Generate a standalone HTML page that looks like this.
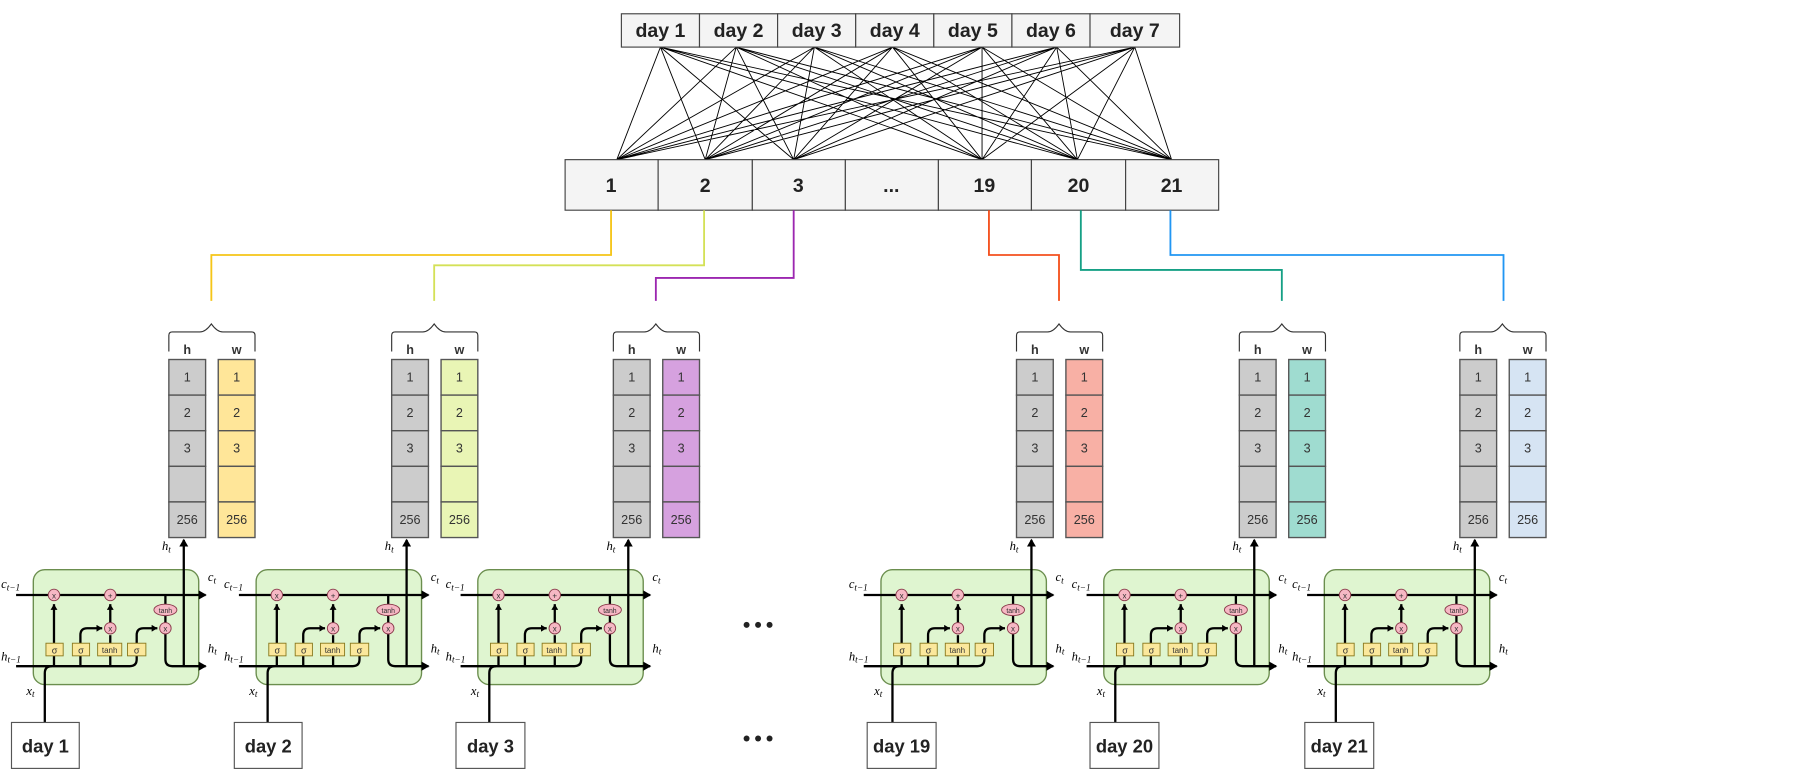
<!DOCTYPE html>
<html><head><meta charset="utf-8"><style>
html,body{margin:0;padding:0;background:#fff;}
svg{display:block;}
text{font-family:"Liberation Sans",sans-serif;}
.b{font-weight:bold;}
.m{font-family:"Liberation Serif",serif;font-style:italic;font-size:11px;}
</style></head><body>
<svg width="1801" height="773" viewBox="0 0 1568 673" xmlns="http://www.w3.org/2000/svg">
<defs>
<marker id="a" markerWidth="8" markerHeight="8" refX="6" refY="4" orient="auto" markerUnits="userSpaceOnUse"><path d="M0,0 L7,4 L0,8 z" fill="#000"/></marker>
<marker id="s" markerWidth="6" markerHeight="6" refX="5" refY="3" orient="auto" markerUnits="userSpaceOnUse"><path d="M0,0 L5,3 L0,6 z" fill="#000"/></marker>
<g id="cell">
<rect x="0" y="496" width="144" height="100" rx="10" fill="#dff5d0" stroke="#6b8e4e" stroke-width="1.2"/>
<g stroke="#000" stroke-width="2" fill="none">
<path d="M-15 518 H150" marker-end="url(#a)"/>
<path d="M-15 580 H84 q6 0 6 -6 V571"/>
<path d="M18 580 V571 M41 580 V571 M67 580 V571"/>
<path d="M18 560 V526" marker-end="url(#s)"/>
<path d="M41 560 V553 q0 -6 6 -6 H60" marker-end="url(#s)"/>
<path d="M67 560 V553"/>
<path d="M67 542 V526" marker-end="url(#s)"/>
<path d="M90 560 V553 q0 -6 6 -6 H108" marker-end="url(#s)"/>
<path d="M115 518 V526 M115 536 V542"/>
<path d="M115 552 V574 q0 6 6 6 H150" marker-end="url(#a)"/>
<path d="M131 580 V470" marker-end="url(#a)"/>
<path d="M10 629 V586 q0 -6 6 -6"/>
</g>
<g fill="#f6b8c4" stroke="#8a3b4c" stroke-width="0.8">
<circle cx="18" cy="518" r="5"/><circle cx="67" cy="518" r="5"/><circle cx="67" cy="547" r="5"/><circle cx="115" cy="547" r="5"/>
<ellipse cx="115" cy="531" rx="10" ry="5"/>
</g>
<g font-size="7" text-anchor="middle" fill="#333">
<text x="18" y="521">x</text><text x="67" y="521">+</text><text x="67" y="550">x</text><text x="115" y="550">x</text><text x="115" y="533.5" font-size="6">tanh</text>
</g>
<g fill="#fbe89c" stroke="#8a7a20" stroke-width="0.8">
<rect x="11" y="560" width="15" height="11"/><rect x="34" y="560" width="15" height="11"/><rect x="56" y="560" width="21" height="11"/><rect x="82" y="560" width="16" height="11"/>
</g>
<g font-size="8" text-anchor="middle" fill="#333">
<text x="18.5" y="569">σ</text><text x="41.5" y="569">σ</text><text x="66.5" y="568.5" font-size="7">tanh</text><text x="90" y="569">σ</text>
</g>
<text class="m" x="-28" y="512">c<tspan font-size="8" dy="2">t−1</tspan></text>
<text class="m" x="-28" y="575">h<tspan font-size="8" dy="2">t−1</tspan></text>
<text class="m" x="152" y="506">c<tspan font-size="8" dy="2">t</tspan></text>
<text class="m" x="152" y="568">h<tspan font-size="8" dy="2">t</tspan></text>
<text class="m" x="112" y="479">h<tspan font-size="8" dy="2">t</tspan></text>
<text class="m" x="-6" y="605">x<tspan font-size="8" dy="2">t</tspan></text>
<path d="M118 306 V292 q0 -3 3 -3 H145 q5 0 10 -7 q5 7 10 7 H190 q3 0 3 3 V306" fill="none" stroke="#333" stroke-width="1"/>
<text x="134" y="308" font-size="11" class="b" text-anchor="middle" fill="#333">h</text>
<text x="177" y="308" font-size="11" class="b" text-anchor="middle" fill="#333">w</text>
<g stroke="#555" stroke-width="1.2" fill="#cccccc">
<rect x="118" y="313" width="32" height="31"/><rect x="118" y="344" width="32" height="31"/><rect x="118" y="375" width="32" height="31"/><rect x="118" y="406" width="32" height="31"/><rect x="118" y="437" width="32" height="31"/>
</g>
<g font-size="11" text-anchor="middle" fill="#333">
<text x="134" y="332">1</text><text x="134" y="363">2</text><text x="134" y="394">3</text><text x="134" y="456">256</text>
<text x="177" y="332">1</text><text x="177" y="363">2</text><text x="177" y="394">3</text><text x="177" y="456">256</text>
</g>
</g>
</defs>

<!-- full connection lines -->
<g stroke="#000" stroke-width="0.8">
<path d="M575 41L537 139M575 41L614 139M575 41L691 139M575 41L855 139M575 41L938 139M575 41L1020 139
M641 41L537 139M641 41L614 139M641 41L691 139M641 41L855 139M641 41L938 139M641 41L1020 139
M709 41L537 139M709 41L614 139M709 41L691 139M709 41L855 139M709 41L938 139M709 41L1020 139
M777 41L537 139M777 41L614 139M777 41L691 139M777 41L855 139M777 41L938 139M777 41L1020 139
M855 41L537 139M855 41L614 139M855 41L691 139M855 41L855 139M855 41L938 139M855 41L1020 139
M920 41L537 139M920 41L614 139M920 41L691 139M920 41L855 139M920 41L938 139M920 41L1020 139
M988 41L537 139M988 41L614 139M988 41L691 139M988 41L855 139M988 41L938 139M988 41L1020 139"/>
</g>

<!-- top row -->
<g stroke="#444" stroke-width="1" fill="#f4f4f4">
<rect x="541" y="12" width="68" height="29"/><rect x="609" y="12" width="68" height="29"/><rect x="677" y="12" width="68" height="29"/><rect x="745" y="12" width="68" height="29"/><rect x="813" y="12" width="68" height="29"/><rect x="881" y="12" width="68" height="29"/><rect x="949" y="12" width="78" height="29"/>
</g>
<g font-size="17" class="b" text-anchor="middle" fill="#222">
<text x="575" y="32">day 1</text><text x="643" y="32">day 2</text><text x="711" y="32">day 3</text><text x="779" y="32">day 4</text><text x="847" y="32">day 5</text><text x="915" y="32">day 6</text><text x="988" y="32">day 7</text>
</g>

<!-- middle row -->
<g stroke="#444" stroke-width="1" fill="#f4f4f4">
<rect x="492" y="139" width="81" height="44"/><rect x="573" y="139" width="82" height="44"/><rect x="655" y="139" width="81" height="44"/><rect x="736" y="139" width="81" height="44"/><rect x="817" y="139" width="81" height="44"/><rect x="898" y="139" width="82" height="44"/><rect x="980" y="139" width="81" height="44"/>
</g>
<g font-size="17" class="b" text-anchor="middle" fill="#222">
<text x="532" y="167">1</text><text x="614" y="167">2</text><text x="695" y="167">3</text><text x="776" y="167">...</text><text x="857" y="167">19</text><text x="939" y="167">20</text><text x="1020" y="167">21</text>
</g>

<!-- colored connectors -->
<g fill="none" stroke-width="1.6">
<path d="M532 183 V222 H184 V262" stroke="#f5c518"/>
<path d="M613 183 V231 H378 V262" stroke="#d4e157"/>
<path d="M691 183 V242 H571 V262" stroke="#9c27b0"/>
<path d="M861 183 V222 H922 V262" stroke="#f4511e"/>
<path d="M941 183 V235 H1116 V262" stroke="#16a085"/>
<path d="M1019 183 V222 H1309 V262" stroke="#2196f3"/>
</g>

<!-- cells -->
<g transform="translate(29,0)"><use href="#cell"/><rect x="161" y="313" width="32" height="155" fill="none"/></g>
<g transform="translate(223,0)"><use href="#cell"/></g>
<g transform="translate(416,0)"><use href="#cell"/></g>
<g transform="translate(767,0)"><use href="#cell"/></g>
<g transform="translate(961,0)"><use href="#cell"/></g>
<g transform="translate(1153,0)"><use href="#cell"/></g>

<!-- w columns -->
<g stroke="#555" stroke-width="1.2">
<g fill="#ffe699"><rect x="190" y="313" width="32" height="31"/><rect x="190" y="344" width="32" height="31"/><rect x="190" y="375" width="32" height="31"/><rect x="190" y="406" width="32" height="31"/><rect x="190" y="437" width="32" height="31"/></g>
<g fill="#e9f5b5"><rect x="384" y="313" width="32" height="31"/><rect x="384" y="344" width="32" height="31"/><rect x="384" y="375" width="32" height="31"/><rect x="384" y="406" width="32" height="31"/><rect x="384" y="437" width="32" height="31"/></g>
<g fill="#d6a1df"><rect x="577" y="313" width="32" height="31"/><rect x="577" y="344" width="32" height="31"/><rect x="577" y="375" width="32" height="31"/><rect x="577" y="406" width="32" height="31"/><rect x="577" y="437" width="32" height="31"/></g>
<g fill="#f8b0a5"><rect x="928" y="313" width="32" height="31"/><rect x="928" y="344" width="32" height="31"/><rect x="928" y="375" width="32" height="31"/><rect x="928" y="406" width="32" height="31"/><rect x="928" y="437" width="32" height="31"/></g>
<g fill="#9fdcd0"><rect x="1122" y="313" width="32" height="31"/><rect x="1122" y="344" width="32" height="31"/><rect x="1122" y="375" width="32" height="31"/><rect x="1122" y="406" width="32" height="31"/><rect x="1122" y="437" width="32" height="31"/></g>
<g fill="#d6e4f3"><rect x="1314" y="313" width="32" height="31"/><rect x="1314" y="344" width="32" height="31"/><rect x="1314" y="375" width="32" height="31"/><rect x="1314" y="406" width="32" height="31"/><rect x="1314" y="437" width="32" height="31"/></g>
</g>
<g font-size="11" text-anchor="middle" fill="#333">
<text x="206" y="332">1</text><text x="206" y="363">2</text><text x="206" y="394">3</text><text x="206" y="456">256</text>
<text x="400" y="332">1</text><text x="400" y="363">2</text><text x="400" y="394">3</text><text x="400" y="456">256</text>
<text x="593" y="332">1</text><text x="593" y="363">2</text><text x="593" y="394">3</text><text x="593" y="456">256</text>
<text x="944" y="332">1</text><text x="944" y="363">2</text><text x="944" y="394">3</text><text x="944" y="456">256</text>
<text x="1138" y="332">1</text><text x="1138" y="363">2</text><text x="1138" y="394">3</text><text x="1138" y="456">256</text>
<text x="1330" y="332">1</text><text x="1330" y="363">2</text><text x="1330" y="394">3</text><text x="1330" y="456">256</text>
</g>

<!-- day boxes -->
<g stroke="#555" stroke-width="1" fill="#fff">
<rect x="10" y="629" width="59" height="40"/><rect x="204" y="629" width="59" height="40"/><rect x="397" y="629" width="60" height="40"/><rect x="755" y="629" width="60" height="40"/><rect x="949" y="629" width="60" height="40"/><rect x="1136" y="629" width="60" height="40"/>
</g>
<g font-size="16" class="b" text-anchor="middle" fill="#222">
<text x="39.5" y="655">day 1</text><text x="233.5" y="655">day 2</text><text x="427" y="655">day 3</text><text x="785" y="655">day 19</text><text x="979" y="655">day 20</text><text x="1166" y="655">day 21</text>
</g>
<g fill="#222">
<circle cx="650" cy="544" r="2.6"/><circle cx="660" cy="544" r="2.6"/><circle cx="670" cy="544" r="2.6"/>
<circle cx="650" cy="643" r="2.6"/><circle cx="660" cy="643" r="2.6"/><circle cx="670" cy="643" r="2.6"/>
</g>
</svg>
</body></html>
